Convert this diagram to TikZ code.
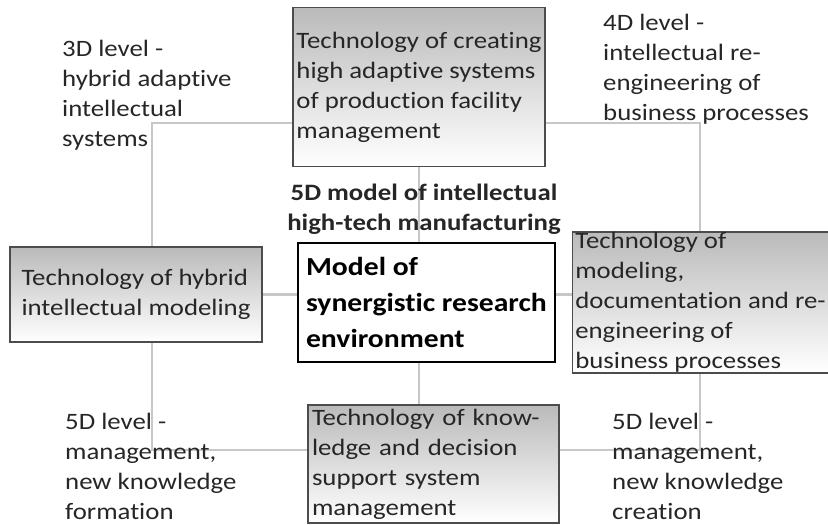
\documentclass[tikz,border=0pt]{standalone}
\usepackage{fontspec}
\setmainfont{Carlito}[FakeStretch=1.14, Ligatures={NoCommon}]
\usetikzlibrary{backgrounds}

\begin{document}
\begin{tikzpicture}[x=1pt, y=1pt,
        techbox/.style={draw=black!70, line width=1.5pt, top color=black!27, bottom color=white,
            align=left, inner xsep=3pt, inner ysep=0pt, text=black!85,
            font=\fontsize{23.5}{30}\selectfont},
        modelbox/.style={draw=black, line width=2.5pt, fill=white, align=left, inner xsep=7pt,
            inner ysep=0pt, font=\fontsize{26}{36}\selectfont\bfseries},
        level/.style={anchor=north west, align=left, inner sep=0pt, text=black!85,
            font=\fontsize{23.5}{30}\selectfont},
        link/.style={draw=black!22, line width=2.5pt}]
        \useasboundingbox (0, 0) rectangle (828, -525);
        % boxes of the five technologies
        \node[techbox, minimum width=252, minimum height=159] (tech-top) at (419, -87)
            {Technology of creating\\high adaptive systems\\of production facility\\management};
        \node[techbox, minimum width=252, minimum height=95] (tech-left) at (136, -294.5)
            {Technology of hybrid\\intellectual modeling};
        \node[modelbox, minimum width=257, minimum height=119] (model) at (426.5, -302.5)
            {Model of\\synergistic research\\environment};
        \node[techbox, minimum width=251, minimum height=141] (tech-right) at (700.5, -302.5)
            {Technology of\\modeling,\\documentation and re-\\engineering of\\business processes};
        \node[techbox, minimum width=251, minimum height=118, text width=243] (tech-bottom) at (433.5, -464)
            {Technology of know-\\ledge and decision\\support system\\management};
        % levels
        \node[level] (level-3d) at (62, -40) {3D level -\\hybrid adaptive\\intellectual\\systems};
        \node[level] (level-4d) at (603, -14) {4D level -\\intellectual re-\\engineering of\\business processes};
        \node[level] (level-5d-left) at (65, -413) {5D level -\\management,\\new knowledge\\formation};
        \node[level] (level-5d-right) at (612, -413) {5D level -\\management,\\new knowledge\\creation};
        \node[anchor=north, align=center, inner sep=0pt, text=black!85,
            font=\fontsize{23.5}{30}\selectfont\bfseries] (model-5d) at (424, -184)
            {5D model of intellectual\\high-tech manufacturing};
        % frame
        \coordinate (nw) at (152, -123);
        \coordinate (ne) at (700, -123);
        \coordinate (sw) at (152, -450);
        \coordinate (se) at (700, -450);
        \begin{scope}[on background layer]
            \draw[link] (tech-top.west |- nw) -- (nw) -- (nw |- tech-left.north);
            \draw[link] (tech-left.south -| sw) -- (sw) -- (sw -| tech-bottom.west);
            \draw[link] (tech-top.east |- ne) -- (ne) -- (ne |- tech-right.north);
            \draw[link] (tech-right.south -| se) -- (se) -- (se -| tech-bottom.east);
            \draw[link] (tech-top.south) -- (tech-top.south |- model.north);
            \draw[link] (tech-top.south |- model.south) -- (tech-top.south |- tech-bottom.north);
            \draw[link] (tech-left.east) -- (tech-left.east -| model.west);
            \draw[link] (model.east |- tech-left.east) -- (tech-right.west |- tech-left.east);
        \end{scope}
    \end{tikzpicture}
\end{document}
